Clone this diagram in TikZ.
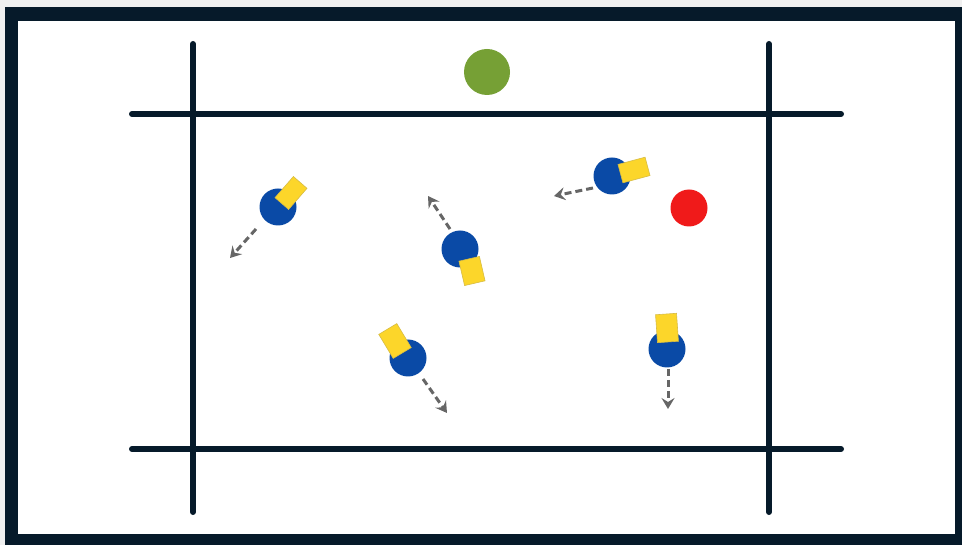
\documentclass[tikz,border=0pt]{standalone}
\usetikzlibrary{arrows.meta}
\definecolor{navy}{HTML}{061A2A}
\definecolor{pblue}{HTML}{0A4AA6}
\definecolor{pgreen}{HTML}{76A035}
\definecolor{pred}{HTML}{F01A1A}
\definecolor{pyellow}{HTML}{FCD62A}
\definecolor{agray}{HTML}{666666}
\definecolor{bggray}{HTML}{F0F0F0}
\tikzset{
  fieldline/.style={navy, line width=6pt, line cap=round},
  player/.style={circle, fill=pblue, minimum size=37pt, inner sep=0pt},
  flag/.style={fill=pyellow, inner sep=0pt, draw=pyellow!70!gray, line width=0.6pt},
  move/.style={agray, line width=3pt, dash pattern=on 7pt off 4pt, -{Stealth[length=11pt,width=13pt,inset=4pt]}},
}
\begin{document}
\begin{tikzpicture}[x=1pt,y=-1pt]
\useasboundingbox (0,0) rectangle (962,545);
\fill[bggray] (0,0) rectangle (962,545);
\fill[navy] (5,7) rectangle (962,545);
\fill[white] (18,21) rectangle (955,534);
% field lines
\draw[fieldline] (193,44) -- (193,512);
\draw[fieldline] (769,44) -- (769,512);
\draw[fieldline] (132,114) -- (841,114);
\draw[fieldline] (132,449) -- (841,449);
% balls / markers
\node[circle, fill=pgreen, minimum size=46pt, inner sep=0pt] (green) at (487,72) {};
\node[circle, fill=pred, minimum size=37pt, inner sep=0pt] (red) at (689,208) {};
% players
\node[player] (p1) at (278,207) {};
\node[player] (p2) at (460,249) {};
\node[player] (p3) at (612,176) {};
\node[player] (p4) at (408,358) {};
\node[player] (p5) at (667,349) {};
% flags
\node[flag, rotate=49, minimum width=28pt, minimum height=18pt] (f1) at (291,193) {};
\node[flag, rotate=13, minimum width=21pt, minimum height=25pt] (f2) at (472,271) {};
\node[flag, rotate=15, minimum width=28pt, minimum height=19pt] (f3) at (634,170) {};
\node[flag, rotate=31, minimum width=21pt, minimum height=28pt] (f4) at (395,341) {};
\node[flag, rotate=4, minimum width=21pt, minimum height=28pt] (f5) at (667,328) {};
% movement arrows
\coordinate (a1s) at (256,229); \coordinate (a1e) at (230,258);
\coordinate (a2s) at (450,229); \coordinate (a2e) at (428,196);
\coordinate (a3s) at (593,188); \coordinate (a3e) at (554,196);
\coordinate (a4s) at (423,379); \coordinate (a4e) at (447,413);
\coordinate (a5s) at (668,369); \coordinate (a5e) at (668,409);
\draw[move] (a1s) -- (a1e);
\draw[move] (a2s) -- (a2e);
\draw[move] (a3s) -- (a3e);
\draw[move] (a4s) -- (a4e);
\draw[move] (a5s) -- (a5e);
\end{tikzpicture}
\end{document}
